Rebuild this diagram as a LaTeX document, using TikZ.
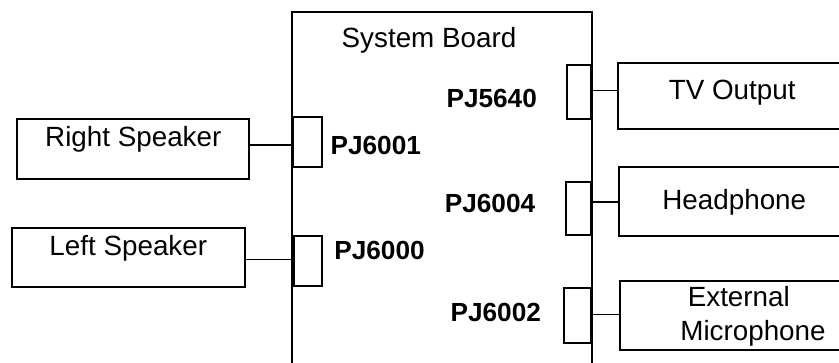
\documentclass[tikz,border=0pt]{standalone}
\usepackage{fontspec}
\setmainfont{Liberation Sans}
\begin{document}
\begin{tikzpicture}[x=1pt,y=-1pt,
  box/.style={draw=black,line width=1.9pt,rectangle,inner sep=0pt,fill=none},
  jack/.style={draw=black,line width=1.8pt,rectangle,inner sep=0pt},
  wire/.style={draw=black,line width=1.4pt},
  lbl/.style={inner sep=0pt,anchor=base,font=\fontsize{27.8}{31}\selectfont},
  plbl/.style={inner sep=0pt,anchor=base,font=\fontsize{26.2}{30}\selectfont\bfseries}]
\useasboundingbox (0,0) rectangle (839,362);
\clip (0,0) rectangle (839,362);
% system board
\node[box,line width=2.1pt,minimum width=300.3pt,minimum height=362.7pt] (board) at (441.85,193.65) {};
\node[lbl] (tboard) at (429,47.7) {System Board};
% external boxes
\node[box,minimum width=231.4pt,minimum height=59.4pt] (rs) at (133,149) {};
\node[box,minimum width=233.3pt,minimum height=59pt] (ls) at (128.35,257.8) {};
\node[box,minimum width=232.3pt,minimum height=66pt] (tv) at (733.85,95.7) {};
\node[box,minimum width=230.7pt,minimum height=69.3pt] (hp) at (734.65,201.35) {};
\node[box,minimum width=229.7pt,minimum height=69.3pt] (mic) at (735.15,315.35) {};
% box texts
\node[lbl] (trs) at (133.3,146.7) {Right Speaker};
\node[lbl] (tls) at (128.3,255) {Left Speaker};
\node[lbl] (ttv) at (732.2,99.3) {TV Output};
\node[lbl] (thp) at (734.3,209.3) {Headphone};
\node[lbl] (text) at (738.8,306.7) {External};
\node[lbl] (tmic) at (753,340) {Microphone};
% jacks
\node[jack,minimum width=29.6pt,minimum height=49.7pt] (j6001) at (307.5,142.15) {};
\node[jack,minimum width=28.3pt,minimum height=49.4pt] (j6000) at (308.15,261) {};
\node[jack,minimum width=24.6pt,minimum height=53.4pt] (j5640) at (579,92) {};
\node[jack,minimum width=25.3pt,minimum height=53.3pt] (j6004) at (578.35,208.35) {};
\node[jack,minimum width=27pt,minimum height=55pt] (j6002) at (577.5,315.8) {};
% jack labels
\node[plbl] (p6001) at (375.8,154) {PJ6001};
\node[plbl] (p6000) at (379.5,259.3) {PJ6000};
\node[plbl] (p5640) at (491.7,107.3) {PJ5640};
\node[plbl] (p6004) at (490,212.7) {PJ6004};
\node[plbl] (p6002) at (495.8,321.7) {PJ6002};
% wires
\draw[wire] (rs.east |- 0,145) -- (j6001.west |- 0,145);
\draw[wire] (ls.east |- 0,259.3) -- (j6000.west |- 0,259.3);
\draw[wire] (j5640.east |- 0,90.7) -- (tv.west |- 0,90.7);
\draw[wire] (j6004.east |- 0,202) -- (hp.west |- 0,202);
\draw[wire] (j6002.east |- 0,314.3) -- (mic.west |- 0,314.3);
\end{tikzpicture}
\end{document}
